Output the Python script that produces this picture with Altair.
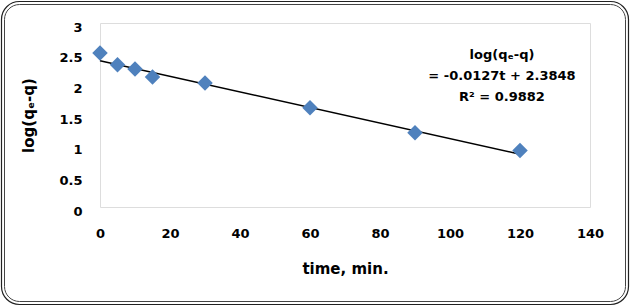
import altair as alt
import pandas as pd

# Kinetic data: contact time (min) and log(qe - q)
time_min = [0, 5, 10, 15, 30, 60, 90, 120]
log_qe_q = [2.51, 2.32, 2.25, 2.12, 2.02, 1.62, 1.21, 0.92]

# Linear fit reported on the chart
slope = -0.0127
intercept = 2.3848
r_squared = 0.9882

x_ticks = [0, 20, 40, 60, 80, 100, 120, 140]
y_ticks = [0.0, 0.5, 1.0, 1.5, 2.0, 2.5, 3.0]

FONT = "DejaVu Sans"
PLOT_W, PLOT_H = 490, 184

points = pd.DataFrame({"t": time_min, "y": log_qe_q})
fit = pd.DataFrame({"t": [min(time_min), max(time_min)]})
fit["y"] = intercept + slope * fit["t"]

x_scale = alt.Scale(domain=[0, 140], nice=False)
y_scale = alt.Scale(domain=[0, 3], nice=False)

label_expr = "'' + datum.value"

x_axis = alt.Axis(
    values=x_ticks, labelExpr=label_expr, title="time, min.", grid=False,
    domain=False, ticks=False, labelFlush=False, labelOverlap=False,
    labelFont=FONT, labelFontWeight="bold", labelFontSize=13, labelColor="#000",
    labelPadding=20, titleFont=FONT, titleFontWeight="bold", titleFontSize=15,
    titleColor="#000", titlePadding=21,
)
y_axis = alt.Axis(
    values=y_ticks, labelExpr=label_expr, title="log(qₑ-q)", grid=False,
    domain=False, ticks=False, labelFlush=False, labelOverlap=False,
    labelFont=FONT, labelFontWeight="bold", labelFontSize=13, labelColor="#000",
    labelPadding=18, labelOffset=4, titleFont=FONT, titleFontWeight="bold",
    titleFontSize=15, titleColor="#000", titlePadding=22,
)

fit_line = alt.Chart(fit).mark_line(color="#000000", strokeWidth=1.6).encode(
    x=alt.X("t:Q", scale=x_scale, axis=x_axis),
    y=alt.Y("y:Q", scale=y_scale, axis=y_axis),
)

markers = alt.Chart(points).mark_point(
    shape="diamond", filled=True, size=240, color="#4F81BD", opacity=1
).encode(
    x=alt.X("t:Q", scale=x_scale, axis=x_axis),
    y=alt.Y("y:Q", scale=y_scale, axis=y_axis),
)

one = pd.DataFrame({"k": [0]})

# Regression equation and R² annotation (first line anchored, others below)
eq_lines = ["log(qₑ-q)", f"= {slope}t + {intercept}", f"R² = {r_squared}"]
eq_text = alt.Chart(one).mark_text(
    text=eq_lines, font=FONT, fontWeight="bold", fontSize=13, color="#000",
    align="center", baseline="middle", lineHeight=21,
).encode(x=alt.value(402), y=alt.value(32))

# Double rounded frame around the whole chart
frame_outer = alt.Chart(one).mark_rect(
    fill=None, stroke="#222", strokeWidth=1.2, cornerRadius=18
).encode(x=alt.value(-98.5), x2=alt.value(528.5), y=alt.value(-21.5), y2=alt.value(281.5))
frame_inner = alt.Chart(one).mark_rect(
    fill=None, stroke="#444", strokeWidth=1.0, cornerRadius=15
).encode(x=alt.value(-95.5), x2=alt.value(525.5), y=alt.value(-18.5), y2=alt.value(278.5))

chart = (
    alt.layer(frame_outer, frame_inner, fit_line, markers, eq_text)
    .properties(
        width=PLOT_W, height=PLOT_H,
        autosize=alt.AutoSizeParams(type="none"),
        padding={"left": 100, "top": 23, "right": 40, "bottom": 99},
    )
    .configure_view(stroke="#8a8a8a", strokeWidth=2)
    .configure(background="white")
)

chart.save("out.html", embed_options={"renderer": "svg", "actions": False})
